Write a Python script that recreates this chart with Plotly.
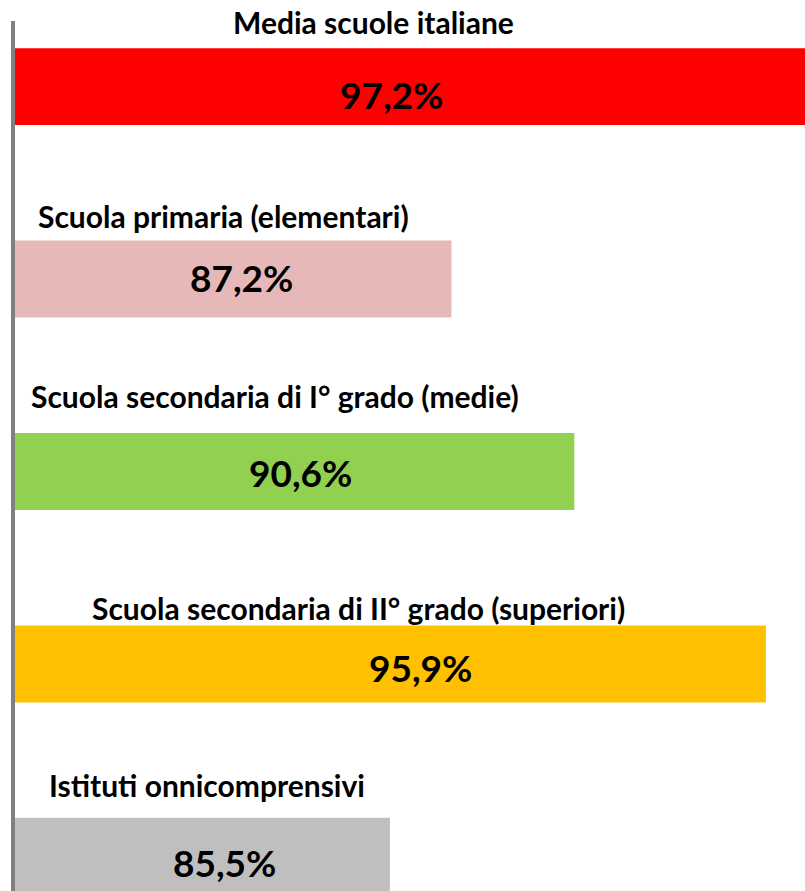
import plotly.graph_objects as go

categories = [
    "Media scuole italiane",
    "Scuola primaria (elementari)",
    "Scuola secondaria di I° grado (medie)",
    "Scuola secondaria di II° grado (superiori)",
    "Istituti onnicomprensivi",
]
values = [97.2, 87.2, 90.6, 95.9, 85.5]
value_labels = ["97,2%", "87,2%", "90,6%", "95,9%", "85,5%"]
colors = ["#FF0000", "#E6B8B7", "#92D050", "#FFC000", "#BFBFBF"]

# layout (page pixels)
W, H = 805, 891
PL, PT = 15, 21
title_px = [(373, 22), (223, 216), (275, 396), (358, 608), (207, 785)]
value_px = [(391, 95), (242, 277), (300, 472), (421, 667), (225, 862)]

def to_paper(px, py):
    return (px - PL) / (W - PL), (H - py) / (H - PT)

fig = go.Figure()
fig.add_trace(go.Bar(
    y=categories, x=values, orientation="h",
    marker=dict(color=colors, line=dict(width=0)),
    hoverinfo="skip", showlegend=False,
))

annotations = []
font_title = dict(family="Lato", size=30, color="#000000", weight="bold")
font_val = dict(family="Lato", size=37, color="#000000", weight="bold")
for cat, (px, py) in zip(categories, title_px):
    x, y = to_paper(px, py)
    annotations.append(dict(text=cat, x=x, y=y, xref="paper", yref="paper",
                            xanchor="center", yanchor="middle", showarrow=False,
                            font=font_title))
for lab, (px, py) in zip(value_labels, value_px):
    x, y = to_paper(px, py)
    annotations.append(dict(text=lab, x=x, y=y, xref="paper", yref="paper",
                            xanchor="center", yanchor="middle", showarrow=False,
                            font=font_val))

fig.update_layout(
    width=W, height=H,
    margin=dict(l=PL, r=0, t=PT, b=0, pad=0),
    plot_bgcolor="white", paper_bgcolor="white",
    bargap=0.6,
    hovermode=False,
    annotations=annotations,
    xaxis=dict(range=[75.13, 96.98], showgrid=False, zeroline=False,
               showticklabels=False, ticks="", showline=False, fixedrange=True),
    yaxis=dict(range=[4.18, -0.341], showgrid=False, zeroline=False,
               showticklabels=False, ticks="", showline=True,
               linecolor="#808080", linewidth=4, fixedrange=True),
)

fig.write_html(
    "out.html",
    config={"displayModeBar": False, "staticPlot": True},
    post_script="document.body.style.margin='0';document.body.style.overflow='hidden';",
)
